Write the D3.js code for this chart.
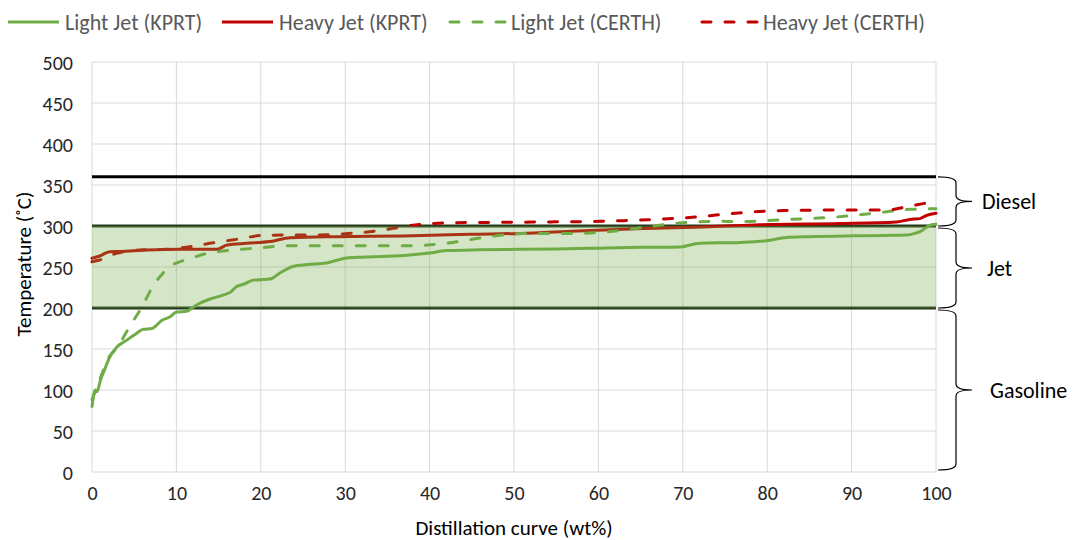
<!DOCTYPE html>
<meta charset="utf-8">
<style>
body { margin: 0; background: #fff; }
text { font-family: Carlito, Lato, "Open Sans", sans-serif; }
.grid line { stroke: #d9d9d9; stroke-width: 1; }
.tick text { fill: #262626; font-size: 20px; }
</style>
<body>
<svg id="chart" width="1075" height="540"></svg>
<script src="https://cdnjs.cloudflare.com/ajax/libs/d3/7.8.5/d3.min.js"></script>
<script>

// series data, [wt%, temperature]
var lightKprt = [[0,80],[0.4,100],[0.6,98],[1,112],[1.5,125],[2,138],[2.9,152],[4,160],[5,167],[6.1,174],[7.1,175],
  [8.3,185],[9.2,189],[10,195],[11.2,196],[12,201],[12.8,206],[14,211],[15.6,216],[16.5,220],[17.1,226],[18,229],
  [19.1,234],[20.7,235],[21.3,236],[22.3,243],[23.9,251],[25.5,253],[27.8,255],[30.2,261],[32,262],[35,263],[38,265],
  [40,267],[42,270],[46,271],[50.7,271.6],[55,272],[60,273],[65,274],[69.7,274.5],[72,279],[76.8,280],[79.9,282],
  [82.3,286],[85,287],[90,288],[94,288.5],[96.5,289],[97.5,291],[98.1,293],[99.3,301],[100,302]];
var heavyKprt = [[0,260.6],[0.9,263.4],[2.1,268.7],[3.3,269],[6.5,270.7],[10.4,271.6],[14.8,271.6],[16,276.8],
  [18.3,278.9],[21.1,281],[23.5,285.7],[29,287],[36.9,287.8],[44.8,289.9],[50.7,291],[57.4,294],[65.3,297],
  [73.2,299],[79.1,301.5],[88.6,303],[95.3,305],[96.9,308],[98.1,309],[98.9,313],[100,315.5]];
var lightCerth = [[0,88],[1,115],[2,140],[3,152],[4.1,171],[5,186],[5.9,201],[7.3,228],[8.2,240],[9.1,250],
  [10.3,256],[11.6,260],[13,265],[14.4,268],[17.1,271],[20.1,273.5],[22.3,275.6],[25,276],[30,276],[35,276],
  [38,276],[40,277],[42.8,280],[45.8,285],[48.7,289],[51.3,291],[57,291],[60,292],[62.8,294.7],[65.7,298.8],
  [68.5,302.4],[71.2,304.9],[74.2,305.7],[77.2,305.5],[79.9,306.5],[82.7,308],[85.5,309.3],[88.2,311],
  [91.2,314],[94.2,317.4],[96.9,320.3],[100,321]];
var heavyCerth = [[0,256.5],[0.9,258.5],[2.9,266.7],[5.7,270.7],[8.8,271.6],[11.6,274.8],[14.4,279.6],
  [17.1,283.7],[20.3,288.6],[23.1,289],[25.8,289],[28.8,289.8],[31.6,291.8],[34.5,295],[37.3,300],[40,302.8],
  [43,304],[48.7,304.5],[54.4,305],[60.2,305.7],[63,306.5],[65.9,307.7],[68.7,309],[71.6,311],[74.4,313.8],
  [77.2,316.3],[80.1,318.3],[82.7,319],[88.6,319.5],[94.2,319.5],[97.1,324.8],[100,330]];

var seriesNames = ["Light Jet (KPRT)", "Heavy Jet (KPRT)", "Light Jet (CERTH)", "Heavy Jet (CERTH)"];
var xTicks = [0, 10, 20, 30, 40, 50, 60, 70, 80, 90, 100];
var yTicks = [0, 50, 100, 150, 200, 250, 300, 350, 400, 450, 500];

// fuel cut ranges (temperature)
var cutNames = ["Diesel", "Jet", "Gasoline"];
var cutRanges = [[300, 360], [200, 300], [0, 200]];

var margin = {top: 62, right: 139, bottom: 68, left: 92};
var width = 1075 - margin.left - margin.right;
var height = 540 - margin.top - margin.bottom;

var svg = d3.select("#chart");
var g = svg.append("g").attr("transform", "translate(" + margin.left + "," + margin.top + ")");

var x = d3.scaleLinear().domain([0, 100]).range([0, width]);
var y = d3.scaleLinear().domain([0, 500]).range([height, 0]);

// gridlines
g.append("g").attr("class", "grid")
  .selectAll("line").data(yTicks).enter().append("line")
  .attr("x1", 0).attr("x2", width)
  .attr("y1", function(d) { return y(d); }).attr("y2", function(d) { return y(d); });
g.append("g").attr("class", "grid")
  .selectAll("line").data(xTicks).enter().append("line")
  .attr("y1", 0).attr("y2", height)
  .attr("x1", function(d) { return x(d); }).attr("x2", function(d) { return x(d); });

// axes (labels only)
var xAxis = g.append("g").attr("transform", "translate(0," + height + ")")
  .call(d3.axisBottom(x).tickValues(xTicks).tickSize(0).tickPadding(14));
var yAxis = g.append("g")
  .call(d3.axisLeft(y).tickValues(yTicks).tickSize(0).tickPadding(19));
xAxis.select(".domain").remove();
yAxis.select(".domain").remove();
yAxis.selectAll(".tick text").attr("dy", "0.35em");

// cut boundary lines
g.selectAll(".cut").data([200, 300]).enter().append("line")
  .attr("x1", 0).attr("x2", width)
  .attr("y1", function(d) { return y(d); }).attr("y2", function(d) { return y(d); })
  .attr("stroke", "#263a1e").attr("stroke-width", 3);
g.append("line")
  .attr("x1", 0).attr("x2", width).attr("y1", y(360)).attr("y2", y(360))
  .attr("stroke", "#000").attr("stroke-width", 3);

// data lines
var line = d3.line()
  .x(function(d) { return x(d[0]); })
  .y(function(d) { return y(d[1]); })
  .curve(d3.curveMonotoneX);

var green = "#70ad47", red = "#c00000";
var styles = [
  {data: lightKprt, color: green, dash: null},
  {data: heavyKprt, color: red, dash: null},
  {data: lightCerth, color: green, dash: "9,14"},
  {data: heavyCerth, color: red, dash: "9,14"}
];
styles.forEach(function(s) {
  g.append("path").datum(s.data)
    .attr("d", line)
    .attr("fill", "none")
    .attr("stroke", s.color)
    .attr("stroke-width", 3)
    .attr("stroke-linecap", "round")
    .attr("stroke-dasharray", s.dash);
});

// jet band fill on top, semi transparent
g.append("rect")
  .attr("x", 0).attr("width", width)
  .attr("y", y(300)).attr("height", y(200) - y(300))
  .attr("fill", green).attr("fill-opacity", 0.3);

// braces on the right
var bx0 = width + 2, bx1 = width + 20, bx2 = width + 36;
function brace(top, bot) {
  var mid = (top + bot) / 2, r = 6;
  return "M" + bx0 + "," + top +
    " Q" + bx1 + "," + top + " " + bx1 + "," + (top + r) +
    " L" + bx1 + "," + (mid - r) +
    " Q" + bx1 + "," + mid + " " + bx2 + "," + mid +
    " Q" + bx1 + "," + mid + " " + bx1 + "," + (mid + r) +
    " L" + bx1 + "," + (bot - r) +
    " Q" + bx1 + "," + bot + " " + bx0 + "," + bot;
}
cutRanges.forEach(function(r, i) {
  var top = y(r[1]) + (i == 0 ? 0 : 2), bot = y(r[0]) - (i == 2 ? 2 : 0);
  g.append("path").attr("d", brace(top, bot))
    .attr("fill", "none").attr("stroke", "#000").attr("stroke-width", 1.2);
  g.append("text")
    .attr("x", bx2 + 10 + (i == 0 ? 0 : (i == 1 ? 5 : 8)))
    .attr("y", (top + bot) / 2).attr("dy", "0.35em")
    .attr("font-size", 22).attr("fill", "#000")
    .text(cutNames[i]);
});

// axis titles
svg.append("text")
  .attr("transform", "translate(31," + (margin.top + height / 2 - 3) + ") rotate(-90)")
  .attr("text-anchor", "middle").attr("font-size", 21).attr("fill", "#000")
  .text("Temperature (˚C)");
svg.append("text")
  .attr("x", margin.left + width / 2).attr("y", 535)
  .attr("text-anchor", "middle").attr("font-size", 21).attr("fill", "#000")
  .text("Distillation curve (wt%)");

// legend
var legendX = [8, 222, 450, 702];
var legend = svg.append("g");
styles.forEach(function(s, i) {
  var lx = legendX[i];
  legend.append("line")
    .attr("x1", lx).attr("x2", lx + (s.dash ? 57 : 51)).attr("y1", 22).attr("y2", 22)
    .attr("stroke", s.color).attr("stroke-width", 3)
    .attr("stroke-linecap", s.dash ? "round" : "butt")
    .attr("stroke-dasharray", s.dash);
  legend.append("text")
    .attr("x", lx + (s.dash ? 61 : 57)).attr("y", 22).attr("dy", "0.35em")
    .attr("font-size", 22).attr("fill", "#595959")
    .text(seriesNames[i]);
});

</script>
